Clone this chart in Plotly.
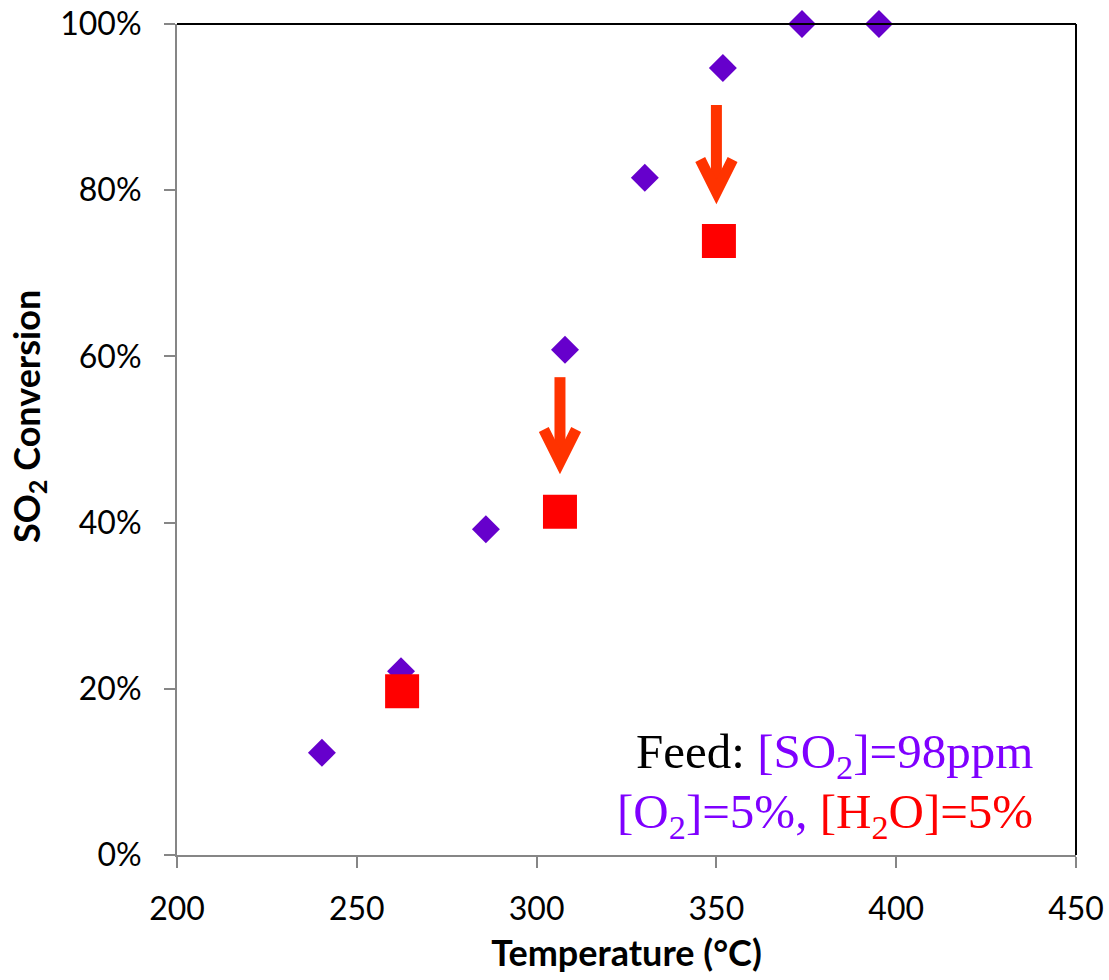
import plotly.graph_objects as go

# Data
temp_dry = [240.3, 262.3, 285.9, 307.9, 330.1, 351.8, 373.8, 395.2]
conv_dry = [0.123, 0.221, 0.392, 0.608, 0.815, 0.947, 1.0, 1.0]
temp_wet = [262.6, 306.5, 350.7]
conv_wet = [0.197, 0.413, 0.739]

x_ticks = [200, 250, 300, 350, 400, 450]
y_ticks = [0, 0.2, 0.4, 0.6, 0.8, 1.0]

# Arrow annotations (data units)
arrow_x = [306.5, 350.0]
arrow_top = [0.575, 0.9025]
arrow_tip = [0.473, 0.798]
arm_dx = 4.5
arm_dy = 0.039

PURPLE = "#6600CC"
TXT_PURPLE = "#7F00FF"
RED = "#FF0000"
ARROW = "#FF3300"
GRAY = "#868686"

fig = go.Figure()

fig.add_trace(go.Scatter(
    x=temp_dry, y=conv_dry, mode="markers", cliponaxis=False,
    marker=dict(symbol="diamond", size=21.5, color=PURPLE, line=dict(width=0)),
    showlegend=False))
fig.add_trace(go.Scatter(
    x=temp_wet, y=conv_wet, mode="markers", cliponaxis=False,
    marker=dict(symbol="square", size=34, color=RED, line=dict(width=0)),
    showlegend=False))

shapes = []
for ax, yt, yb in zip(arrow_x, arrow_top, arrow_tip):
    shapes.append(dict(type="line", xref="x", yref="y", x0=ax, x1=ax, y0=yt, y1=yb + 0.005,
                       line=dict(color=ARROW, width=11)))
    shapes.append(dict(type="path", xref="x", yref="y",
                       path=f"M {ax - arm_dx} {yb + arm_dy} L {ax} {yb} L {ax + arm_dx} {yb + arm_dy}",
                       line=dict(color=ARROW, width=11)))
# top & right frame
shapes.append(dict(type="line", xref="x domain", yref="y domain", x0=0, x1=1, y0=1, y1=1,
                   line=dict(color="black", width=2)))
shapes.append(dict(type="line", xref="x domain", yref="y domain", x0=1, x1=1, y0=0, y1=1,
                   line=dict(color="black", width=2)))

annotations = [
    dict(xref="paper", yref="paper", x=0.954, y=0.120, xanchor="right", yanchor="middle",
         height=54, valign="middle",
         showarrow=False, font=dict(family="Liberation Serif", size=49, color="black"),
         text=f"Feed: <span style='color:{TXT_PURPLE}'>[SO<sub>2</sub>]=98ppm</span>"),
    dict(xref="paper", yref="paper", x=0.954, y=0.048, xanchor="right", yanchor="middle",
         height=54, valign="middle",
         showarrow=False, font=dict(family="Liberation Serif", size=49, color=TXT_PURPLE),
         text=f"[O<sub>2</sub>]=5%, <span style='color:{RED}'>[H<sub>2</sub>O]=5%</span>"),
    dict(xref="paper", yref="paper", x=-0.166, y=0.528, xanchor="center", yanchor="middle",
         textangle=-90, showarrow=False,
         font=dict(family="Lato", size=36, color="black"),
         text="<b>SO<sub>2</sub> Conversion</b>"),
]

fig.update_layout(
    width=1109, height=980,
    margin=dict(l=177, r=33, t=24, b=125),
    paper_bgcolor="white", plot_bgcolor="white",
    font=dict(family="Lato", size=32, color="black"),
    shapes=shapes, annotations=annotations,
    xaxis=dict(range=[200, 450], tickvals=x_ticks, showgrid=False, zeroline=False,
               automargin=False,
               showline=True, linecolor=GRAY, linewidth=2,
               ticks="outside", ticklen=11, tickwidth=2, tickcolor=GRAY,
               ticklabelstandoff=14,
               title=dict(text="<b>Temperature (°C)</b>", font=dict(size=36), standoff=14)),
    yaxis=dict(range=[0, 1], tickvals=y_ticks, tickformat=".0%", showgrid=False, zeroline=False,
               automargin=False,
               showline=True, linecolor=GRAY, linewidth=2,
               ticks="outside", ticklen=11, tickwidth=2, tickcolor=GRAY,
               ticklabelstandoff=16),
)

fig.write_html("out.html")
